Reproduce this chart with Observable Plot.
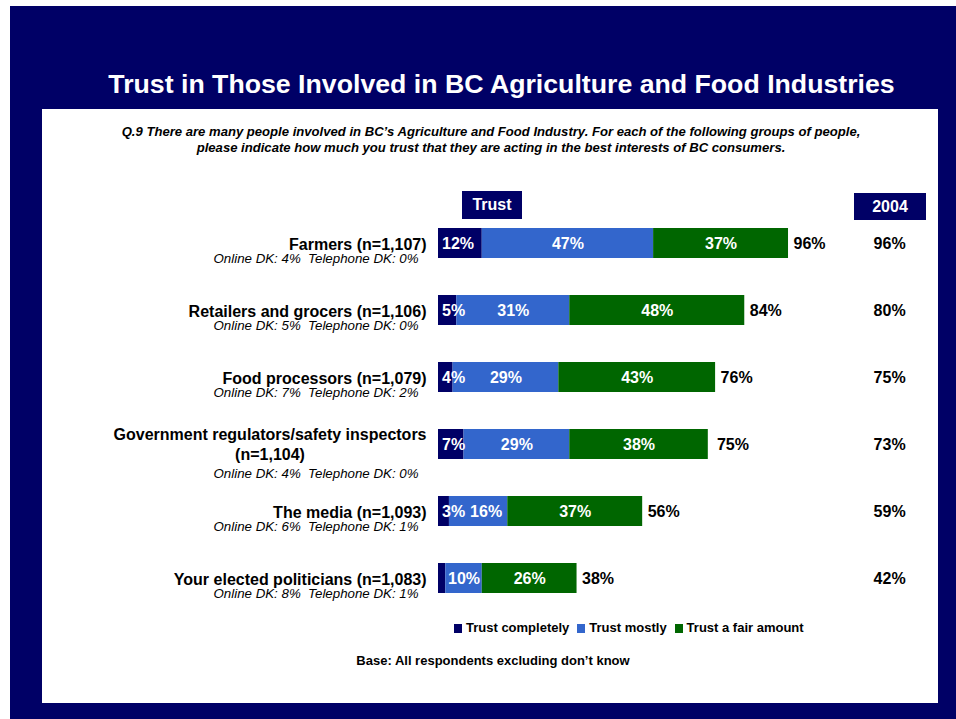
<!DOCTYPE html>
<html><head><meta charset="utf-8">
<script src="https://cdn.jsdelivr.net/npm/d3@7"></script>
<script src="https://cdn.jsdelivr.net/npm/@observablehq/plot@0.6"></script>
<style>
body{margin:0;background:#fff;font-family:"Liberation Sans",Arial,sans-serif;}
#page{position:relative;width:956px;height:719px;overflow:hidden;}
.abs{position:absolute;}
#frame{left:10px;top:6px;width:946px;height:713px;background:#000066;}
#panel{left:42px;top:109px;width:896px;height:594px;background:#fff;}
#title{left:0;width:1003px;top:69px;line-height:30px;text-align:center;color:#fff;font-weight:bold;font-size:26.7px;white-space:nowrap;}
#subtitle{left:0;width:982px;top:124px;line-height:15.5px;text-align:center;color:#000;font-weight:bold;font-style:italic;font-size:13.1px;white-space:nowrap;}
.hdr{background:#000066;color:#fff;font-weight:bold;font-size:16px;text-align:center;}
#legend{left:454px;top:620px;display:flex;align-items:center;font-weight:bold;font-size:13px;line-height:16px;white-space:nowrap;}
#legend .sw{width:8px;height:9px;margin-right:4px;display:inline-block;}
#legend .it{display:flex;align-items:center;margin-right:8px;}
#base{left:0;width:986px;top:653px;text-align:center;font-weight:bold;font-size:13px;}
#chart{left:0;top:0;}
</style></head>
<body>
<div id="page">
  <div id="frame" class="abs"></div>
  <div id="panel" class="abs"></div>
  <div id="title" class="abs">Trust in Those Involved in BC Agriculture and Food Industries</div>
  <div id="subtitle" class="abs">Q.9 There are many people involved in BC’s Agriculture and Food Industry. For each of the following groups of people,<br>please indicate how much you trust that they are acting in the best interests of BC consumers.</div>
  <div id="chart" class="abs"></div>
  <div class="abs hdr" style="left:462px;top:191px;width:60px;height:28px;line-height:28px;">Trust</div>
  <div class="abs hdr" style="left:854px;top:193px;width:72px;height:27px;line-height:27px;">2004</div>
  <div id="legend" class="abs"></div>
  <div id="base" class="abs">Base: All respondents excluding don’t know</div>
</div>
<script>
// ---- data ----
const categoryLines = [
  ["Farmers (n=1,107)"],
  ["Retailers and grocers (n=1,106)"],
  ["Food processors (n=1,079)"],
  ["Government regulators/safety inspectors", "(n=1,104)"],
  ["The media (n=1,093)"],
  ["Your elected politicians (n=1,083)"]
];
const dkLabels = [
  "Online DK: 4%  Telephone DK: 0%",
  "Online DK: 5%  Telephone DK: 0%",
  "Online DK: 7%  Telephone DK: 2%",
  "Online DK: 4%  Telephone DK: 0%",
  "Online DK: 6%  Telephone DK: 1%",
  "Online DK: 8%  Telephone DK: 1%"
];
const seriesNames = ["Trust completely", "Trust mostly", "Trust a fair amount"];
const seriesColors = ["#000066", "#3366CC", "#006600"];
const trustCompletely = [12, 5, 4, 7, 3, 2];
const trustMostly = [47, 31, 29, 29, 16, 10];
const trustFairAmount = [37, 48, 43, 38, 37, 26];
const totalTrust = [96, 84, 76, 75, 56, 38];
const total2004 = [96, 80, 75, 73, 59, 42];

// ---- layout constants ----
const W = 956, H = 719, ML = 438, MR = 153.4, MT = 191, MB = 89;
const FONT = '"Liberation Sans", Arial, sans-serif';
const LBL = 16;

// ---- build tables ----
const categories = categoryLines.map(l => l.join(" "));
const seriesValues = [trustCompletely, trustMostly, trustFairAmount];
const segments = [];
seriesNames.forEach((s, si) => categories.forEach((c, ci) =>
  segments.push({category: c, series: s, value: seriesValues[si][ci]})));
const rows = categories.map((c, i) => ({
  category: c, first: categoryLines[i][0], second: categoryLines[i][1] || null,
  dk: dkLabels[i], total: totalTrust[i], t2004: total2004[i], multi: categoryLines[i].length > 1
}));

const ctx = document.createElement("canvas").getContext("2d");
ctx.font = `bold ${LBL}px ${FONT}`;
const tw = s => ctx.measureText(s).width;

// in-bar label positions (data units), nudged right to avoid overlapping the previous label
const k = (W - ML - MR) / 100; // px per percentage point
const segLabels = [];
categories.forEach((c, ci) => {
  let x1 = 0, prevEnd = -Infinity;
  seriesNames.forEach((s, si) => {
    const v = seriesValues[si][ci];
    const x2 = x1 + v;
    if (v >= 3) {
      const t = `${v}%`, w = tw(t) / k;
      let lx = si === 0 ? x1 + 3.5 / k + w / 2 : (x1 + x2) / 2;
      lx = Math.max(lx, prevEnd + 5 / k + w / 2);
      segLabels.push({category: c, text: t, lx});
      prevEnd = lx + w / 2;
    }
    x1 = x2;
  });
});

const multiRows = rows.filter(r => r.multi);
const singleRows = rows.filter(r => !r.multi);
const firstW = multiRows.length ? tw(multiRows[0].first) : 0;

const chart = Plot.plot({
  width: W, height: H,
  marginLeft: ML, marginRight: MR, marginTop: MT, marginBottom: MB,
  style: {background: "transparent", fontFamily: FONT, overflow: "visible"},
  x: {domain: [0, 100], axis: null},
  y: {domain: categories, padding: 0.552, axis: null},
  color: {domain: seriesNames, range: seriesColors},
  marks: [
    Plot.barX(segments, Plot.stackX({x: "value", y: "category", z: "series", order: seriesNames, fill: "series"})),
    Plot.text(segLabels, {x: "lx", y: "category", text: "text",
      fill: "white", fontWeight: "bold", fontSize: LBL}),
    Plot.text(rows, {x: "total", y: "category", text: d => `${d.total}%`, dx: 5,
      textAnchor: "start", fontWeight: "bold", fontSize: LBL, fill: "black"}),
    Plot.text(rows, {y: "category", text: d => `${d.t2004}%`, frameAnchor: "right", dx: 86.5,
      textAnchor: "middle", fontWeight: "bold", fontSize: LBL, fill: "black"}),
    // category labels
    Plot.text(singleRows, {y: "category", text: "first", frameAnchor: "left", dx: -12, dy: 1.5,
      textAnchor: "end", fontWeight: "bold", fontSize: LBL, fill: "black"}),
    Plot.text(multiRows, {y: "category", text: "first", frameAnchor: "left", dx: -12, dy: -10,
      textAnchor: "end", fontWeight: "bold", fontSize: LBL, fill: "black"}),
    Plot.text(multiRows, {y: "category", text: "second", frameAnchor: "left", dx: -12 - firstW / 2, dy: 10,
      textAnchor: "middle", fontWeight: "bold", fontSize: LBL, fill: "black"}),
    Plot.text(singleRows, {y: "category", text: "dk", frameAnchor: "left", dx: -20, dy: 15.5,
      textAnchor: "end", fontStyle: "italic", fontSize: 13.3, fill: "black"}),
    Plot.text(multiRows, {y: "category", text: "dk", frameAnchor: "left", dx: -20, dy: 29,
      textAnchor: "end", fontStyle: "italic", fontSize: 13.3, fill: "black"})
  ]
});
document.getElementById("chart").appendChild(chart);

// legend
const legend = document.getElementById("legend");
seriesNames.forEach((s, i) => {
  const it = document.createElement("span");
  it.className = "it";
  it.innerHTML = `<span class="sw" style="background:${seriesColors[i]}"></span>${s}`;
  legend.appendChild(it);
});
</script>
</body></html>
